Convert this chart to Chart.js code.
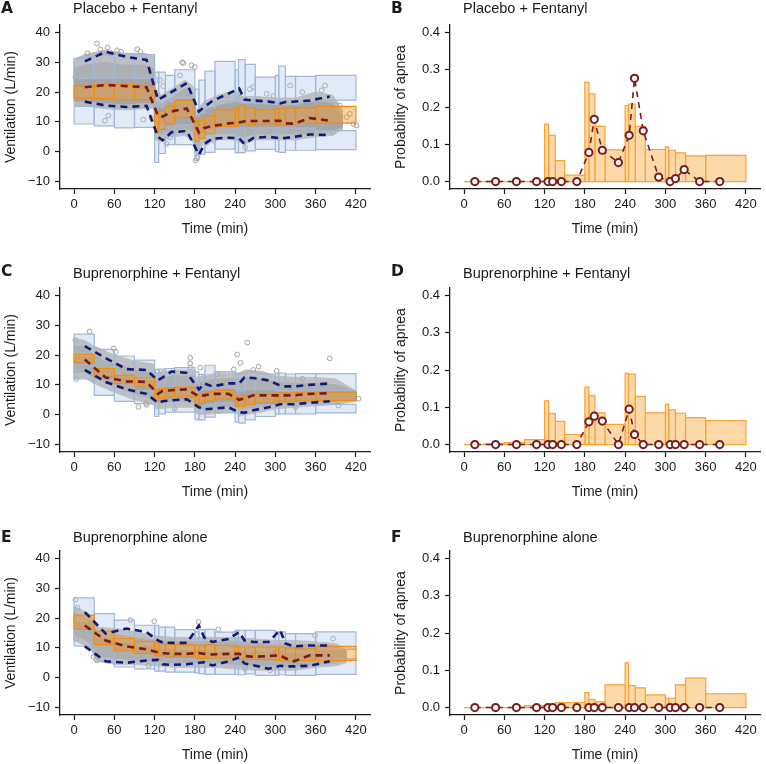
<!DOCTYPE html>
<html>
<head>
<meta charset="utf-8">
<script src="https://cdn.jsdelivr.net/npm/chart.js@4.4.1/dist/chart.umd.min.js"></script>
<style>
  body { margin: 0; background: #fff; }
  #fig { position: relative; width: 766px; height: 764px; font-family: "Liberation Sans", Arial, sans-serif; color: #1a1a1a; }
  #fig canvas { position: absolute; }
  .tag { position: absolute; font-family: "DejaVu Sans", sans-serif; font-weight: bold; font-size: 15.5px; line-height: 1; }
  .ttl { position: absolute; font-size: 14.5px; line-height: 1; white-space: nowrap; }
</style>
</head>
<body>
<div id="fig">
  <canvas id="cA" width="383" height="238" style="left:0;top:0"></canvas>
  <canvas id="cB" width="376" height="238" style="left:390px;top:0"></canvas>
  <canvas id="cC" width="383" height="238" style="left:0;top:263px"></canvas>
  <canvas id="cD" width="376" height="238" style="left:390px;top:263px"></canvas>
  <canvas id="cE" width="383" height="238" style="left:0;top:526px"></canvas>
  <canvas id="cF" width="376" height="238" style="left:390px;top:526px"></canvas>

  <div class="tag" style="left:1px;top:1px">A</div>
  <div class="ttl" style="left:73px;top:1px">Placebo + Fentanyl</div>
  <div class="tag" style="left:391px;top:1px">B</div>
  <div class="ttl" style="left:463px;top:1px">Placebo + Fentanyl</div>
  <div class="tag" style="left:1px;top:264px">C</div>
  <div class="ttl" style="left:73px;top:266px">Buprenorphine + Fentanyl</div>
  <div class="tag" style="left:391px;top:264px">D</div>
  <div class="ttl" style="left:463px;top:266px">Buprenorphine + Fentanyl</div>
  <div class="tag" style="left:1px;top:530px">E</div>
  <div class="ttl" style="left:73px;top:530px">Buprenorphine alone</div>
  <div class="tag" style="left:391px;top:530px">F</div>
  <div class="ttl" style="left:463px;top:530px">Buprenorphine alone</div>
</div>

<script>
// ---- shared bins / ticks ----
var binStart = [0, 30, 60, 90, 120, 126, 136, 150, 180, 186, 195, 210, 240, 245, 255, 270, 300, 305, 315, 330, 360];
var binEnd   = [30, 60, 90, 120, 126, 136, 150, 180, 186, 195, 210, 240, 245, 255, 270, 300, 305, 315, 330, 360, 420];
var obsTime  = [16, 47, 78, 108, 125, 132, 145, 168, 186, 194, 206, 230, 246, 254, 267, 290, 307, 315, 328, 351, 381];
var timeTicks = [0, 60, 120, 180, 240, 300, 360, 420];
var ventTicks = [-10, 0, 10, 20, 30, 40];
var probTicks = [0, 0.1, 0.2, 0.3, 0.4];

// ---- A: placebo + fentanyl, ventilation ----
var aHiLo  = [24.5, 24.7, 24.7, 24.5, 15, 15, 17, 18, 12, 13, 15, 17, 17, 17.5, 17.5, 17, 16.5, 17, 17, 17, 17.3];
var aHiUp  = [31.3, 32.4, 32.6, 32.6, 26.7, 26.7, 25.6, 27.5, 21, 24, 27, 30.3, 27.5, 30.9, 29.3, 25, 25.6, 28.7, 25.3, 25.3, 25.6];
var aMedLo = [18.0, 17.8, 17.5, 17.5, 6.5, 7.5, 9.3, 11.5, 3.5, 4.5, 6.2, 8.4, 8.6, 9.5, 9.1, 9.3, 9.0, 9.0, 9.2, 9.5, 9.6];
var aMedUp = [22.0, 22.5, 22.5, 22.3, 12.9, 13.5, 15.2, 17.2, 10.4, 10.5, 12.0, 14.0, 14.7, 15.4, 14.7, 14.0, 14.3, 14.5, 14.7, 14.7, 15.2];
var aLoLo  = [9.3, 8.7, 8.0, 8.2, -3.6, -0.6, 2.4, 2.4, -3.0, -0.8, -0.2, 0.9, -0.4, -0.3, 0.3, 0.8, 0.0, -0.2, 0.5, 0.5, 0.7];
var aLoUp  = [15.2, 15.0, 14.7, 14.7, 12.7, 9.0, 8.5, 9.0, 5.0, 6.0, 7.0, 8.0, 8.0, 8.0, 8.0, 8.0, 8.0, 8.0, 8.0, 8.0, 7.1];
var aP5    = [16.8, 15.5, 15.0, 15.4, 5.0, 3.8, 6.5, 7.0, -1.0, 2.5, 4.4, 4.7, 4.5, 2.6, 4.6, 5.0, 4.5, 4.6, 5.0, 5.8, 5.6];
var aMed   = [21.6, 22.4, 22.0, 21.6, 12.0, 11.8, 13.5, 14.5, 6.5, 8.0, 8.6, 9.5, 9.8, 10.2, 10.3, 10.3, 10.4, 9.5, 9.4, 11.3, 10.4];
var aP95   = [30.3, 33.5, 31.8, 30.8, 17.5, 18.3, 20.0, 23.0, 13.5, 15.0, 17.0, 19.5, 21.2, 17.5, 17.2, 16.8, 16.2, 16.7, 16.8, 17.2, 18.5];
// extent of the dense observation cloud
var aCloudT  = [0, 15, 45, 75, 105, 119, 121, 130, 145, 165, 177, 182, 186, 195, 215, 240, 252, 270, 300, 330, 360, 385, 400];
var aOuterLo = [15.5, 15.5, 14.5, 14, 14.5, 15, 4, 3.5, 5, 5.5, 3.5, -2, 1, 3, 4, 4, 2.5, 4, 4, 4, 5, 5.5, 7.5];
var aOuterHi = [31, 32.5, 34, 33, 33, 32, 21, 19, 21, 24, 22, 13, 15, 17, 19, 20.5, 18.5, 18.5, 18, 18, 20, 19, 14];
var aInnerLo = [17, 17, 16.5, 16, 16.5, 16.5, 6, 6, 7, 8, 7, 1, 3.5, 5.5, 6, 6, 5, 6, 6, 6, 6.5, 7, 8.5];
var aInnerHi = [28, 29, 30, 29, 29, 28, 17, 16, 18, 21, 19, 11, 12.5, 14, 15.5, 16.5, 16, 16, 15.5, 15.5, 17, 16, 12];
// scattered individual observations
var aPtT = [2, 5, 20, 34, 39, 50, 55, 64, 70, 94, 99, 104, 46, 51, 103, 116, 123, 128, 133, 138, 143, 158, 161, 163, 175, 180, 181, 184, 198, 208, 228, 247, 255, 262, 267, 287, 297, 322, 340, 369, 374, 386, 389, 396, 406, 411, 416, 421];
var aPtV = [25, 18, 33, 36.3, 34.3, 35, 33, 34, 33.5, 34.4, 33.5, 32, 10.4, 12.1, 10.8, 11, 24, 24, 22, 2.6, 4.8, 25.6, 30, 29.7, 29, 28.4, -2.9, -1.9, 3.1, 3.7, 18.9, 18.3, 1.5, 21, 21.7, 19.4, 18.7, 22.2, 20, 20.6, 22.2, 6.5, 12.7, 15.5, 11.6, 12.7, 9.3, 8.8];

// ---- C: buprenorphine + fentanyl, ventilation ----
var cHiLo  = [20, 15.5, 13.5, 12, 9, 9, 9.5, 9.5, 7.5, 8.5, 8.5, 9, 8, 8, 8.5, 8.5, 8, 8, 8, 8, 8];
var cHiUp  = [27.0, 21.9, 19.7, 18.3, 15.2, 15.3, 15.5, 15.8, 14.4, 13.5, 16.6, 14.4, 13.5, 13.8, 14.0, 13.6, 13.8, 14.0, 13.6, 13.8, 13.8];
var cMedLo = [17.4, 12.5, 10.4, 9.3, 4.6, 5.4, 6.0, 6.2, 3.1, 3.7, 4.6, 5.2, 2.8, 2.8, 3.5, 3.9, 4.3, 4.3, 4.3, 4.6, 4.8];
var cMedUp = [20.2, 15.5, 13.3, 12.4, 8.2, 8.8, 9.0, 9.3, 6.5, 7.1, 7.6, 8.2, 6.0, 6.0, 6.5, 6.9, 7.3, 7.3, 7.3, 7.4, 7.6];
var cLoLo  = [12, 6.5, 4.5, 3.7, -0.6, 0.3, 0.9, 0.9, -1.7, -1.7, -0.8, 0.6, -2.5, -2.8, -1.7, -0.6, 0.3, 0.3, 0.3, 0.3, 0.6];
var cLoUp  = [17, 12, 10, 8, 4.5, 5, 5, 5, 3, 3, 3.5, 4, 2.5, 2.5, 3, 3.5, 4, 4, 4, 4, 3.5];
var cP5    = [15, 11, 8.5, 7, 4, 4.5, 4.8, 5.2, 2.5, 1.8, 2.0, 2.5, 0.8, 0.7, 1.5, 2.5, 3.5, 3.5, 3.5, 4.0, 4.5];
var cMed   = [18.5, 12.5, 11.2, 11.0, 7.0, 8.0, 8.2, 8.5, 6.2, 6.5, 7.0, 7.0, 5.0, 5.5, 6.5, 6.5, 6.5, 6.5, 6.5, 7.0, 7.2];
var cP95   = [23, 19, 15.3, 15, 11.5, 12.5, 14.5, 14, 8.5, 10.5, 9.5, 10.5, 10.5, 12.5, 12.3, 11.5, 9.8, 9.5, 9.5, 10, 10.5];
var cCloudT  = [0, 15, 30, 45, 60, 90, 118, 122, 150, 178, 182, 190, 215, 240, 246, 256, 280, 300, 330, 360, 390, 405, 420];
var cOuterLo = [12, 12.5, 10.5, 9, 7.5, 5, 3.5, 2, 2.5, 2.5, 0.5, 0, 0.5, 1, -0.5, 0, 1, 2, 2.5, 3, 3.5, 4, 4.5];
var cOuterHi = [25.5, 25, 23, 21.5, 20, 18, 17, 14, 15, 15, 12.5, 13, 14, 14, 14, 15, 14.5, 13, 12.5, 12.5, 12, 10, 8];
var cInnerLo = [14, 14.5, 12.5, 11, 9.5, 7, 5.5, 4, 4.5, 4.5, 2.5, 2, 2.5, 3, 1.5, 2, 3, 3.5, 4, 4.5, 4.5, 5, 5];
var cInnerHi = [23, 23, 20, 18, 17, 15, 14, 12, 13, 13, 10.5, 11, 12, 12, 12, 12.5, 12, 11, 10.5, 10.5, 10, 9, 7.5];
var cPtT = [2, 3, 23, 59, 62, 96, 107, 108, 124, 133, 148, 173, 173, 173, 188, 213, 238, 243, 248, 258, 267, 275, 302, 340, 381, 394, 424, 150, 200, 330];
var cPtV = [25, 12, 27.9, 22.2, 21.1, 2.6, 3.9, 3.3, 14.4, 14, 13.8, 19.1, 17.2, 15.8, 15.8, 13.6, 15.2, 20.2, 17.4, 24.2, 15, 16.1, 14.7, 12.1, 18.9, 3.1, 5.4, 2, 1.5, 2.5];

// ---- E: buprenorphine alone, ventilation ----
var eHiLo  = [19, 13.5, 12, 11, 10, 10, 10, 9.5, 9.5, 9.5, 9.5, 9, 9, 9, 9, 9, 9, 9, 8.5, 8.5, 9.5];
var eHiUp  = [26.8, 21.5, 19.3, 17.6, 17.6, 17.0, 17.0, 16.1, 15.4, 16.1, 16.2, 15.3, 15.9, 15.9, 15.9, 15.9, 15.4, 15.4, 14.8, 14.8, 15.4];
var eMedLo = [16.2, 11.1, 9.0, 8.1, 7.3, 7.3, 6.9, 6.9, 6.6, 6.4, 6.6, 6.6, 6.4, 6.1, 6.1, 6.1, 5.8, 5.8, 5.6, 5.8, 5.8];
var eMedUp = [21.0, 15.6, 13.1, 12.2, 11.7, 11.4, 11.1, 11.1, 10.9, 10.9, 11.1, 10.9, 10.7, 10.3, 10.3, 10.3, 10.3, 10.3, 10.0, 9.7, 10.5];
var eLoLo  = [10.6, 5.6, 3.6, 3.0, 2.2, 2.2, 1.9, 1.9, 1.6, 1.3, 1.1, 1.1, 1.0, 1.0, 1.3, 0.8, 0.8, 1.0, 0.8, 0.8, 1.1];
var eLoUp  = [16, 11, 9, 8, 7, 7, 6.5, 6.5, 6.5, 6.5, 6.5, 6.5, 6.5, 6, 6, 6, 6, 6, 6, 6, 6.4];
var eP5    = [10.5, 5.5, 5.0, 5.8, 6.0, 4.5, 4.3, 4.5, 5.0, 5.2, 4.1, 5.5, 6.8, 4.8, 4.2, 3.0, 4.0, 3.8, 3.8, 4.0, 5.5];
var eMed   = [17.5, 12.5, 10.5, 9.5, 8.5, 8.3, 8.0, 8.0, 8.3, 8.0, 7.8, 8.0, 8.0, 7.3, 7.0, 7.3, 7.5, 6.5, 5.5, 7.5, 7.5];
var eP95   = [22, 14.8, 16.5, 15.3, 12.5, 11.8, 11.7, 11.7, 17.5, 13.5, 12.0, 13.0, 15.3, 12.5, 12.0, 12.0, 16.0, 11.5, 10.5, 10.8, 10.8];
var eCloudT  = [0, 10, 25, 35, 60, 90, 120, 150, 180, 210, 240, 270, 300, 330, 360, 390, 405];
var eOuterLo = [12.5, 11.5, 9.5, 5.5, 4.5, 4.5, 4, 3.5, 3.5, 3.5, 3, 2.5, 2.5, 2.5, 3.5, 4, 5];
var eOuterHi = [24, 23, 21, 17, 16.5, 15.5, 14, 13.5, 13.5, 13.5, 13.5, 13, 12.5, 12.5, 12, 11.5, 9.5];
var eInnerLo = [14.5, 13.5, 11.5, 7.5, 6.5, 6, 5.5, 5, 5, 5, 4.5, 4, 4, 4, 4.5, 5, 5.5];
var eInnerHi = [22, 21, 19, 15, 14.5, 13.5, 12.5, 12, 12, 12, 12, 11.5, 11, 11, 11, 10.5, 9];
var ePtT = [2, 29, 34, 84, 111, 119.5, 185.5, 215, 240, 255, 292, 359, 386, 5, 3];
var ePtV = [26.2, 7, 5.8, 19.3, 4.1, 18.9, 18.7, 16.2, 14.8, 3, 2.5, 14.2, 13.1, 23.5, 13];

// ---- B, D, F: probability of apnea ----
var bProbUp = [0, 0, 0, 0, 0.154, 0.124, 0.056, 0.017, 0.266, 0.235, 0.148, 0.085, 0.204, 0.208, 0.148, 0.086, 0.093, 0.084, 0.077, 0.069, 0.070];
var bObs    = [0, 0, 0, 0, 0, 0, 0, 0, 0.078, 0.167, 0.084, 0.051, 0.124, 0.277, 0.136, 0.012, 0, 0.008, 0.032, 0, 0];
var dProbUp = [0, 0.002, 0.005, 0.013, 0.117, 0.083, 0.062, 0.027, 0.154, 0.131, 0.085, 0.054, 0.191, 0.189, 0.129, 0.085, 0.108, 0.093, 0.084, 0.072, 0.064];
var dObs    = [0, 0, 0, 0, 0, 0, 0, 0, 0.061, 0.076, 0.063, 0, 0.095, 0.027, 0, 0, 0, 0, 0, 0, 0];
var fProbUp = [0, 0, 0, 0.005, 0.005, 0.005, 0.013, 0.013, 0.040, 0.022, 0.015, 0.061, 0.120, 0.059, 0.053, 0.034, 0.025, 0.025, 0.061, 0.079, 0.037];
var fObs    = [0, 0, 0, 0, 0, 0, 0, 0, 0, 0, 0, 0, 0, 0, 0, 0, 0, 0, 0, 0, 0];

var FONT = '"Liberation Sans", Arial, sans-serif';
var INK = '#1a1a1a';

function rect(x0, x1, lo, hi) {
  return [{ x: x0, y: lo }, { x: x1, y: lo }, { x: x1, y: hi }, { x: x0, y: hi }, { x: x0, y: lo }];
}
function band(t, lo, hi) {
  var up = t.map(function (v, i) { return { x: v, y: hi[i] }; });
  var dn = t.map(function (v, i) { return { x: v, y: lo[i] }; }).reverse();
  return up.concat(dn, [up[0]]);
}
function series(t, v) {
  return t.map(function (x, i) { return { x: x, y: v[i] }; });
}
function boxes(lo, hi, bg, line, order) {
  return binStart.map(function (s, i) {
    return {
      type: 'line', data: rect(s, binEnd[i], lo[i], hi[i]), fill: 'shape',
      backgroundColor: bg, borderColor: line, borderWidth: 1.2,
      pointRadius: 0, tension: 0, order: order
    };
  });
}
function shape(pts, bg, order) {
  return { type: 'line', data: pts, fill: 'shape', backgroundColor: bg, borderColor: bg, borderWidth: 1, pointRadius: 0, tension: 0, order: order };
}
function dashed(t, v, color, order) {
  return { type: 'line', data: series(t, v), borderColor: color, borderWidth: 2.6, borderDash: [7, 5], pointRadius: 0, fill: false, tension: 0, order: order };
}

function axisCommon(ticks) {
  return {
    type: 'linear',
    afterBuildTicks: function (s) { s.ticks = ticks.map(function (v) { return { value: v }; }); },
    grid: { drawOnChartArea: false, drawTicks: true, tickLength: 5, tickColor: INK, tickWidth: 1.2 },
    border: { display: true, color: INK, width: 1.3 }
  };
}

function makeChart(id, datasets, yMin, yMax, yTicks, yTitle, yFmt, padRight) {
  var x = axisCommon(timeTicks);
  x.min = -21; x.max = 441;
  x.ticks = { font: { family: FONT, size: 13 }, color: INK, padding: 3, maxRotation: 0, autoSkip: false };
  x.title = { display: true, text: 'Time (min)', font: { family: FONT, size: 14 }, color: INK, padding: { top: 0, bottom: 0 } };
  x.afterFit = function (s) { s.height = 49; };

  var y = axisCommon(yTicks);
  y.min = yMin; y.max = yMax;
  y.ticks = { font: { family: FONT, size: 13 }, color: INK, padding: 5, autoSkip: false, callback: yFmt };
  y.title = { display: true, text: yTitle, font: { family: FONT, size: 14 }, color: INK, padding: { top: 3, bottom: 0 } };
  y.afterFit = function (s) { s.width = 60; };

  return new Chart(document.getElementById(id), {
    type: 'scatter',
    data: { datasets: datasets },
    options: {
      responsive: false, animation: false, events: [],
      layout: { padding: { top: 25, right: padRight, left: 0, bottom: 0 } },
      plugins: { legend: { display: false }, tooltip: { enabled: false } },
      scales: { x: x, y: y }
    }
  });
}

var ventFmt = function (v) { return v < 0 ? '\u2212' + Math.abs(v) : String(v); };
var probFmt = function (v) { return Number(v).toFixed(1); };

function ventPanel(id, hiLo, hiUp, medLo, medUp, loLo, loUp, p5, med, p95, cT, oLo, oHi, iLo, iHi, ptT, ptV) {
  var sets = [];
  // light-blue fill of the 95th / 5th percentile intervals, under the data
  sets = sets.concat(boxes(hiLo, hiUp, '#e4edf9', 'rgba(0,0,0,0)', 9));
  sets = sets.concat(boxes(loLo, loUp, '#e4edf9', 'rgba(0,0,0,0)', 9));
  sets.push(shape(band(cT, oLo, oHi), '#b9b9b9', 7));
  sets.push(shape(band(cT, iLo, iHi), '#a5a5a5', 6));
  sets.push({
    type: 'scatter', data: series(ptT, ptV), pointRadius: 2.4, pointBorderWidth: 1,
    pointBackgroundColor: 'rgba(255,255,255,0)', pointBorderColor: '#a2a2a2', order: 5
  });
  // their outlines stay visible through the cloud
  sets = sets.concat(boxes(hiLo, hiUp, 'rgba(210,225,246,0.18)', '#a3b7d5', 4));
  sets = sets.concat(boxes(loLo, loUp, 'rgba(210,225,246,0.18)', '#a3b7d5', 4));
  sets = sets.concat(boxes(medLo, medUp, 'rgba(246,158,48,0.45)', '#f08c10', 2));
  sets.push(dashed(obsTime, p5, '#111a78', 1));
  sets.push(dashed(obsTime, p95, '#111a78', 1));
  sets.push(dashed(obsTime, med, '#7c1a1a', 0));
  makeChart(id, sets, -12.5, 42.5, ventTicks, 'Ventilation (L/min)', ventFmt, 13);
}

function probPanel(id, probUp, obs) {
  var zeros = binStart.map(function () { return 0; });
  var sets = boxes(zeros, probUp, '#fdd8a8', '#f7a233', 2);
  sets.push({
    type: 'line', data: series(obsTime, obs), borderColor: '#7a1c1c', borderWidth: 1.6, borderDash: [6, 5],
    pointRadius: 3.6, pointBorderWidth: 2, pointBackgroundColor: '#ffffff', pointBorderColor: '#7a1c1c',
    fill: false, tension: 0, order: 0
  });
  makeChart(id, sets, -0.02, 0.42, probTicks, 'Probability of apnea', probFmt, 6);
}

ventPanel('cA', aHiLo, aHiUp, aMedLo, aMedUp, aLoLo, aLoUp, aP5, aMed, aP95, aCloudT, aOuterLo, aOuterHi, aInnerLo, aInnerHi, aPtT, aPtV);
ventPanel('cC', cHiLo, cHiUp, cMedLo, cMedUp, cLoLo, cLoUp, cP5, cMed, cP95, cCloudT, cOuterLo, cOuterHi, cInnerLo, cInnerHi, cPtT, cPtV);
ventPanel('cE', eHiLo, eHiUp, eMedLo, eMedUp, eLoLo, eLoUp, eP5, eMed, eP95, eCloudT, eOuterLo, eOuterHi, eInnerLo, eInnerHi, ePtT, ePtV);
probPanel('cB', bProbUp, bObs);
probPanel('cD', dProbUp, dObs);
probPanel('cF', fProbUp, fObs);
</script>
</body>
</html>
